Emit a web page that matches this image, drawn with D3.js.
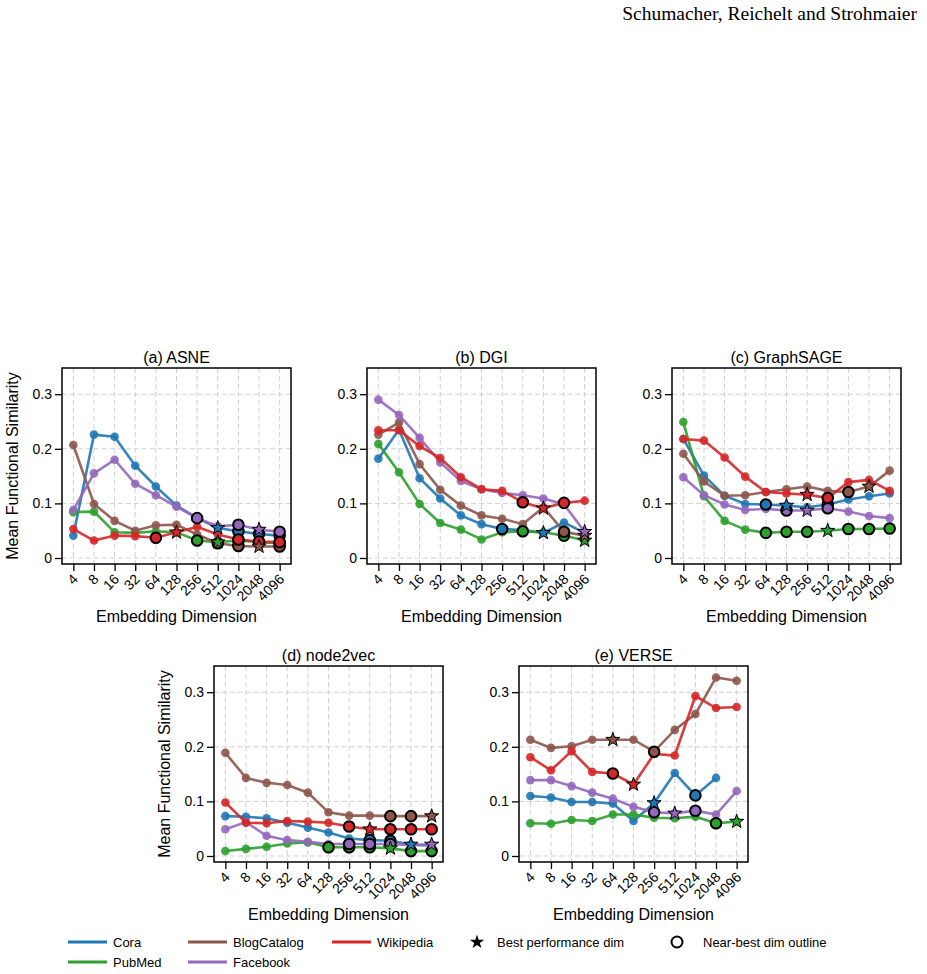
<!DOCTYPE html>
<html>
<head>
<meta charset="utf-8">
<script src="https://cdn.jsdelivr.net/npm/d3@7"></script>
<style>
  body { margin: 0; background: #fff; }
  svg { font-family: "Liberation Sans", Arial, sans-serif; }
</style>
</head>
<body>
<svg id="chart" width="927" height="974"></svg>
<script>
// embedding dimensions on the x axis
const dims = ["4", "8", "16", "32", "64", "128", "256", "512", "1024", "2048", "4096"];
const datasets = ["Cora", "PubMed", "BlogCatalog", "Facebook", "Wikipedia"];
const palette = ["#1f77b4", "#2ca02c", "#8c564b", "#9467bd", "#d62728"];
const yTicks = [0, 0.1, 0.2, 0.3];

// mean functional similarity, one row per dataset (same order as datasets)
const asneValues = [
  [0.041, 0.226, 0.222, 0.169, 0.131, 0.096, 0.073, 0.055, 0.049, 0.044, 0.041],
  [0.084, 0.085, 0.047, 0.046, 0.049, 0.047, 0.032, 0.029, 0.032, 0.029, 0.027],
  [0.207, 0.099, 0.068, 0.050, 0.060, 0.061, 0.043, 0.027, 0.022, 0.021, 0.021],
  [0.088, 0.155, 0.180, 0.136, 0.115, 0.094, 0.073, 0.058, 0.061, 0.052, 0.048],
  [0.053, 0.032, 0.041, 0.040, 0.037, 0.047, 0.057, 0.043, 0.034, 0.030, 0.029]
];
const dgiValues = [
  [0.182, 0.235, 0.146, 0.109, 0.078, 0.062, 0.053, 0.051, 0.046, 0.065, 0.046],
  [0.209, 0.157, 0.099, 0.064, 0.052, 0.034, 0.047, 0.049, 0.047, 0.041, 0.032],
  [0.226, 0.248, 0.172, 0.125, 0.096, 0.078, 0.072, 0.062, 0.093, 0.048, 0.041],
  [0.290, 0.262, 0.220, 0.175, 0.141, 0.126, 0.119, 0.115, 0.109, 0.098, 0.048],
  [0.234, 0.234, 0.205, 0.183, 0.148, 0.126, 0.123, 0.102, 0.091, 0.101, 0.105]
];
const graphsageValues = [
  [0.218, 0.151, 0.114, 0.099, 0.098, 0.096, 0.093, 0.098, 0.107, 0.113, 0.118],
  [0.249, 0.113, 0.068, 0.052, 0.046, 0.048, 0.048, 0.050, 0.053, 0.053, 0.054],
  [0.191, 0.140, 0.114, 0.115, 0.121, 0.126, 0.131, 0.123, 0.121, 0.131, 0.160],
  [0.148, 0.115, 0.098, 0.088, 0.090, 0.087, 0.087, 0.091, 0.085, 0.077, 0.073],
  [0.218, 0.215, 0.184, 0.149, 0.121, 0.118, 0.116, 0.110, 0.139, 0.143, 0.123]
];
const node2vecValues = [
  [0.073, 0.072, 0.069, 0.061, 0.052, 0.043, 0.032, 0.029, 0.028, 0.021, 0.019],
  [0.009, 0.013, 0.017, 0.023, 0.025, 0.016, 0.016, 0.016, 0.014, 0.009, 0.009],
  [0.189, 0.143, 0.134, 0.130, 0.116, 0.080, 0.074, 0.074, 0.073, 0.073, 0.073],
  [0.049, 0.062, 0.037, 0.029, 0.026, 0.022, 0.022, 0.022, 0.022, 0.020, 0.021],
  [0.098, 0.061, 0.060, 0.064, 0.063, 0.061, 0.054, 0.049, 0.049, 0.049, 0.049]
];
const verseValues = [
  [0.110, 0.107, 0.099, 0.099, 0.096, 0.064, 0.097, 0.152, 0.111, 0.143, null],
  [0.060, 0.059, 0.066, 0.064, 0.076, 0.076, 0.070, 0.069, 0.072, 0.060, 0.063],
  [0.213, 0.198, 0.201, 0.213, 0.213, 0.213, 0.191, 0.231, 0.260, 0.327, 0.321],
  [0.139, 0.139, 0.128, 0.116, 0.105, 0.090, 0.080, 0.078, 0.083, 0.076, 0.119],
  [0.181, 0.157, 0.192, 0.154, 0.151, 0.131, 0.187, 0.184, 0.293, 0.271, 0.273]
];

// best dimension per dataset, and near-best dimensions per dataset
const asneBest = ["512", "512", "2048", "2048", "128"];
const asneNear = [["1024", "2048", "4096"], ["256", "1024", "2048", "4096"], ["512", "1024", "4096"], ["256", "1024", "4096"], ["64", "1024", "2048", "4096"]];
const dgiBest = ["1024", "4096", "4096", "4096", "1024"];
const dgiNear = [["256"], ["512", "2048"], ["2048"], [], ["512", "2048"]];
const graphsageBest = ["128", "512", "2048", "256", "256"];
const graphsageNear = [["64", "512"], ["64", "128", "256", "1024", "2048", "4096"], ["1024"], ["128", "512"], ["512"]];
const node2vecBest = ["2048", "1024", "4096", "4096", "512"];
const node2vecNear = [["512", "1024"], ["128", "256", "512", "2048", "4096"], ["1024", "2048"], ["256", "512", "1024"], ["256", "1024", "2048", "4096"]];
const verseBest = ["256", "4096", "64", "512", "128"];
const verseNear = [["1024"], ["2048"], ["256"], ["256", "1024"], ["64"]];

const methods = ["(a) ASNE", "(b) DGI", "(c) GraphSAGE", "(d) node2vec", "(e) VERSE"];
const panelValues = [asneValues, dgiValues, graphsageValues, node2vecValues, verseValues];
const panelBest = [asneBest, dgiBest, graphsageBest, node2vecBest, verseBest];
const panelNear = [asneNear, dgiNear, graphsageNear, node2vecNear, verseNear];

// layout
const panelPos = [[62, 368], [367, 368], [672, 368], [214, 666], [519, 666]];
const pw = 229, ph = 196;

const svg = d3.select("#chart");

svg.append("text")
  .attr("x", 917).attr("y", 20)
  .attr("text-anchor", "end")
  .style("font-family", "'Liberation Serif', 'Times New Roman', serif")
  .style("font-size", "19.5px")
  .text("Schumacher, Reichelt and Strohmaier");

const x = d3.scalePoint().domain(dims).range([0, pw]).padding(0.55);
const y = d3.scaleLinear().domain([-0.011, 0.348]).range([ph, 0]);
const star = d3.symbol().type(d3.symbolStar).size(62);

methods.forEach(function(title, p) {
  const g = svg.append("g").attr("transform", "translate(" + panelPos[p][0] + "," + panelPos[p][1] + ")");

  // dashed grid
  g.selectAll(".gx").data(dims).enter().append("line")
    .attr("x1", function(d) { return x(d); }).attr("x2", function(d) { return x(d); })
    .attr("y1", 0).attr("y2", ph)
    .attr("stroke", "#d0d0d0").attr("stroke-dasharray", "5,3").attr("stroke-width", 1);
  g.selectAll(".gy").data(yTicks).enter().append("line")
    .attr("x1", 0).attr("x2", pw)
    .attr("y1", function(d) { return y(d); }).attr("y2", function(d) { return y(d); })
    .attr("stroke", "#d0d0d0").attr("stroke-dasharray", "5,3").attr("stroke-width", 1);

  // axes
  const yAxis = g.append("g")
    .call(d3.axisLeft(y).tickValues(yTicks).tickSize(7).tickPadding(3)
      .tickFormat(function(d) { return d === 0 ? "0" : d3.format(".1f")(d); }));
  yAxis.select(".domain").remove();
  yAxis.selectAll("text").style("font-size", "14px").attr("fill", "#000");
  yAxis.selectAll("line").attr("stroke-width", 1.3);

  const xAxis = g.append("g").attr("transform", "translate(0," + ph + ")")
    .call(d3.axisBottom(x).tickSize(7));
  xAxis.select(".domain").remove();
  xAxis.selectAll("line").attr("stroke-width", 1.3);
  xAxis.selectAll("text")
    .style("font-size", "14px").attr("fill", "#000")
    .attr("text-anchor", "end")
    .attr("y", 0).attr("dy", 0)
    .attr("transform", "translate(5,16) rotate(-45)");

  g.append("rect").attr("width", pw).attr("height", ph)
    .attr("fill", "none").attr("stroke", "#000").attr("stroke-width", 1.5);

  g.append("text")
    .attr("x", pw / 2).attr("y", -5)
    .attr("text-anchor", "middle")
    .style("font-size", "16px")
    .text(title);

  g.append("text")
    .attr("x", pw / 2).attr("y", ph + 58)
    .attr("text-anchor", "middle")
    .style("font-size", "16px")
    .text("Embedding Dimension");

  if (p === 0 || p === 3) {
    g.append("text")
      .attr("transform", "translate(-50," + (ph / 2) + ") rotate(-90)")
      .attr("text-anchor", "middle")
      .attr("dy", "0.35em")
      .style("font-size", "16px")
      .text("Mean Functional Similarity");
  }

  const values = panelValues[p];
  const line = d3.line()
    .defined(function(d) { return d.v !== null; })
    .x(function(d) { return x(d.dim); })
    .y(function(d) { return y(d.v); });

  const series = datasets.map(function(name, i) {
    return {
      name: name,
      color: palette[i],
      points: dims.map(function(dim, j) { return { dim: dim, v: values[i][j] }; })
    };
  });

  series.forEach(function(s) {
    g.append("path").datum(s.points)
      .attr("d", line)
      .attr("fill", "none")
      .attr("stroke", s.color)
      .attr("stroke-width", 2.6)
      .attr("opacity", 0.9);
    g.selectAll(null).data(s.points.filter(function(d) { return d.v !== null; }))
      .enter().append("circle")
      .attr("cx", function(d) { return x(d.dim); })
      .attr("cy", function(d) { return y(d.v); })
      .attr("r", 4.3)
      .attr("fill", s.color)
      .attr("opacity", 0.9);
  });

  // near-best outlines
  series.forEach(function(s, i) {
    const near = s.points.filter(function(d) { return d.v !== null && panelNear[p][i].indexOf(d.dim) >= 0; });
    g.selectAll(null).data(near).enter().append("circle")
      .attr("cx", function(d) { return x(d.dim); })
      .attr("cy", function(d) { return y(d.v); })
      .attr("r", 5.3)
      .attr("fill", s.color)
      .attr("stroke", "#000")
      .attr("stroke-width", 2);
  });

  // best stars
  series.forEach(function(s, i) {
    const best = s.points.filter(function(d) { return d.v !== null && d.dim === panelBest[p][i]; });
    g.selectAll(null).data(best).enter().append("path")
      .attr("d", star)
      .attr("transform", function(d) { return "translate(" + x(d.dim) + "," + y(d.v) + ")"; })
      .attr("fill", s.color)
      .attr("stroke", "#000")
      .attr("stroke-width", 1);
  });
});

// legend
const legendItems = [
  { label: "Cora", color: palette[0], x: 68, y: 942, kind: "line" },
  { label: "PubMed", color: palette[1], x: 68, y: 962, kind: "line" },
  { label: "BlogCatalog", color: palette[2], x: 188, y: 942, kind: "line" },
  { label: "Facebook", color: palette[3], x: 188, y: 962, kind: "line" },
  { label: "Wikipedia", color: palette[4], x: 332, y: 942, kind: "line" },
  { label: "Best performance dim", color: "#000", x: 462, y: 942, kind: "star" },
  { label: "Near-best dim outline", color: "#000", x: 662, y: 942, kind: "ring" }
];
const legend = svg.append("g");
legendItems.forEach(function(d) {
  const item = legend.append("g").attr("transform", "translate(" + d.x + "," + d.y + ")");
  if (d.kind === "line") {
    item.append("line").attr("x1", 0).attr("x2", 39).attr("y1", 0).attr("y2", 0)
      .attr("stroke", d.color).attr("stroke-width", 3);
  } else if (d.kind === "star") {
    item.append("path").attr("d", d3.symbol().type(d3.symbolStar).size(64)())
      .attr("transform", "translate(15,0)").attr("fill", "#000");
  } else {
    item.append("circle").attr("cx", 15).attr("cy", 0).attr("r", 5.5)
      .attr("fill", "none").attr("stroke", "#000").attr("stroke-width", 2);
  }
  item.append("text")
    .attr("x", d.kind === "line" ? 45 : (d.kind === "star" ? 35 : 41))
    .attr("y", 0).attr("dy", "0.35em")
    .style("font-size", "13px")
    .text(d.label);
});
</script>
</body>
</html>
